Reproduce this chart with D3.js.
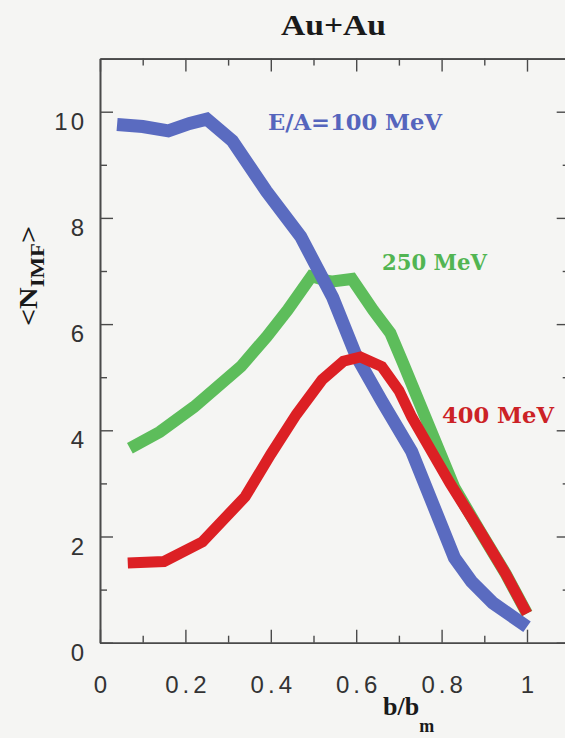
<!DOCTYPE html>
<html>
<head>
<meta charset="utf-8">
<script src="https://cdn.jsdelivr.net/npm/d3@7"></script>
<style>
  html, body { margin: 0; padding: 0; background: #f5f5f3; }
  svg { display: block; }
</style>
</head>
<body>
<svg id="chart" width="565" height="738"></svg>
<script>
// ---- data ----
const title = "Au+Au";
const xTicksMajor = [0, 0.2, 0.4, 0.6, 0.8, 1];
const xTickLabels = ["0", "0.2", "0.4", "0.6", "0.8", "1"];
const xTicksMinor = [0.1, 0.3, 0.5, 0.7, 0.9];
const yTicksMajor = [0, 2, 4, 6, 8, 10];
const yTickLabels = ["0", "2", "4", "6", "8", "10"];
const yTicksMinor = [1, 3, 5, 7, 9];

const seriesNames = ["E/A=100 MeV", "250 MeV", "400 MeV"];

const b100 = [0.04, 0.10, 0.16, 0.21, 0.25, 0.31, 0.39, 0.47, 0.545, 0.60, 0.66, 0.73, 0.78, 0.83, 0.87, 0.92, 1.0];
const n100 = [9.76, 9.72, 9.64, 9.78, 9.86, 9.45, 8.5, 7.65, 6.5, 5.4, 4.55, 3.6, 2.6, 1.6, 1.15, 0.75, 0.3];

const b250 = [0.07, 0.14, 0.22, 0.33, 0.39, 0.44, 0.495, 0.54, 0.59, 0.64, 0.68, 0.71, 0.83, 0.89, 0.95, 1.0];
const n250 = [3.66, 3.97, 4.44, 5.2, 5.76, 6.27, 6.9, 6.8, 6.85, 6.26, 5.83, 5.26, 2.92, 2.1, 1.3, 0.55];

const b400 = [0.065, 0.15, 0.24, 0.34, 0.40, 0.46, 0.52, 0.57, 0.61, 0.66, 0.70, 0.73, 0.82, 0.89, 0.95, 1.0];
const n400 = [1.50, 1.53, 1.90, 2.75, 3.55, 4.3, 4.95, 5.3, 5.38, 5.2, 4.75, 4.25, 3.0, 2.1, 1.3, 0.55];

// ---- layout ----
const svg = d3.select("#chart");
const x = d3.scaleLinear().domain([0, 1.1]).range([100, 100 + 1.1 * 427]);
const y = d3.scaleLinear().domain([0, 11]).range([642.7, 642.7 - 11 * 53.1]);

svg.append("rect").attr("width", 565).attr("height", 738).attr("fill", "#f5f5f3");

const axisColor = "#4a4a4a";
function styleAxis(g) {
  g.select(".domain").attr("stroke", axisColor).attr("stroke-width", 1.6);
  g.selectAll(".tick line").attr("stroke", axisColor).attr("stroke-width", 1.4);
}

const X0 = x(0), X1 = x(1.1), Y0 = y(0), Y1 = y(11);

const gLeft = svg.append("g").attr("transform", `translate(${X0},0)`)
  .call(d3.axisLeft(y).tickValues(yTicksMajor).tickSizeInner(-13).tickSizeOuter(0).tickPadding(16)
    .tickFormat((d, i) => yTickLabels[i]));
styleAxis(gLeft);
gLeft.selectAll("text")
  .attr("font-family", "'Liberation Sans', Arial, sans-serif")
  .attr("font-size", 24).attr("fill", "#333").attr("letter-spacing", "3px")
  .attr("dy", "0.73em").attr("dx", 3);

svg.append("g").attr("transform", `translate(${X0},0)`)
  .call(d3.axisLeft(y).tickValues(yTicksMinor).tickSizeInner(-7).tickSizeOuter(0).tickFormat(""))
  .call(styleAxis);

const gBottom = svg.append("g").attr("transform", `translate(0,${Y0})`)
  .call(d3.axisBottom(x).tickValues(xTicksMajor).tickSizeInner(-13).tickSizeOuter(0)
    .tickFormat((d, i) => xTickLabels[i]));
styleAxis(gBottom);
gBottom.selectAll("text")
  .attr("font-family", "'Liberation Sans', Arial, sans-serif")
  .attr("font-size", 24).attr("fill", "#333").attr("letter-spacing", "4px")
  .attr("y", 50.6).attr("dy", 0).attr("dx", 2);

svg.append("g").attr("transform", `translate(0,${Y0})`)
  .call(d3.axisBottom(x).tickValues(xTicksMinor).tickSizeInner(-7).tickSizeOuter(0).tickFormat(""))
  .call(styleAxis);

svg.append("g").attr("transform", `translate(0,${Y1})`)
  .call(d3.axisTop(x).tickValues(xTicksMajor.concat([1.1])).tickSizeInner(-13).tickSizeOuter(0).tickFormat(""))
  .call(styleAxis);
svg.append("g").attr("transform", `translate(0,${Y1})`)
  .call(d3.axisTop(x).tickValues(xTicksMinor).tickSizeInner(-7).tickSizeOuter(0).tickFormat(""))
  .call(styleAxis);

svg.append("g").attr("transform", `translate(${X1},0)`)
  .call(d3.axisRight(y).tickValues(yTicksMajor).tickSizeInner(-13).tickSizeOuter(0).tickFormat(""))
  .call(styleAxis);
svg.append("g").attr("transform", `translate(${X1},0)`)
  .call(d3.axisRight(y).tickValues(yTicksMinor).tickSizeInner(-7).tickSizeOuter(0).tickFormat(""))
  .call(styleAxis);

// ---- curves ----
const line = d3.line().x(d => x(d[0])).y(d => y(d[1]));
const series = [
  { b: b250, n: n250, color: "#5dbd5b", w: 12 },
  { b: b100, n: n100, color: "#5a6bc0", w: 13 },
  { b: b400, n: n400, color: "#dc2024", w: 11 }
];
series.forEach(s => {
  svg.append("path")
    .datum(s.b.map((v, i) => [v, s.n[i]]))
    .attr("d", line)
    .attr("fill", "none")
    .attr("stroke", s.color)
    .attr("stroke-width", s.w)
    .attr("stroke-linejoin", "miter")
    .attr("stroke-linecap", "butt");
});

// ---- texts ----
svg.append("text").text(title)
  .attr("x", 281).attr("y", 35)
  .attr("font-family", "'Liberation Serif', 'Times New Roman', serif")
  .attr("font-weight", "bold").attr("font-size", 30).attr("fill", "#1a1a1a")
  .attr("textLength", 105).attr("lengthAdjust", "spacingAndGlyphs");

const labelFont = "'DejaVu Serif', serif";
const labels = [
  { t: seriesNames[0], x: 268, y: 130, len: 174, c: "#5565bd" },
  { t: seriesNames[1], x: 382, y: 270, len: 105, c: "#52b552" },
  { t: seriesNames[2], x: 442, y: 423, len: 112, c: "#cc2226" }
];
labels.forEach(l => {
  svg.append("text").text(l.t)
    .attr("x", l.x).attr("y", l.y)
    .attr("font-family", labelFont).attr("font-weight", "bold")
    .attr("font-size", 23).attr("fill", l.c)
    .attr("textLength", l.len).attr("lengthAdjust", "spacingAndGlyphs");
});

// y-axis title <N_IMF>
const yl = svg.append("text")
  .attr("transform", "translate(37,276) rotate(-90) scale(1.2,1)")
  .attr("text-anchor", "middle")
  .attr("font-family", "'Liberation Serif', 'Times New Roman', serif")
  .attr("font-weight", "bold").attr("fill", "#1a1a1a");
yl.append("tspan").attr("font-size", 25).text("<N");
yl.append("tspan").attr("font-size", 19).attr("dy", 7).text("IMF");
yl.append("tspan").attr("font-size", 25).attr("dy", -7).text(">");

// x-axis title b/b_m
const xl = svg.append("text")
  .attr("x", 383).attr("y", 715)
  .attr("font-family", "'Liberation Serif', 'Times New Roman', serif")
  .attr("font-weight", "bold").attr("fill", "#1a1a1a");
xl.append("tspan").attr("font-size", 26).text("b/b");
xl.append("tspan").attr("font-size", 18).attr("dy", 17).text("m");
</script>
</body>
</html>
